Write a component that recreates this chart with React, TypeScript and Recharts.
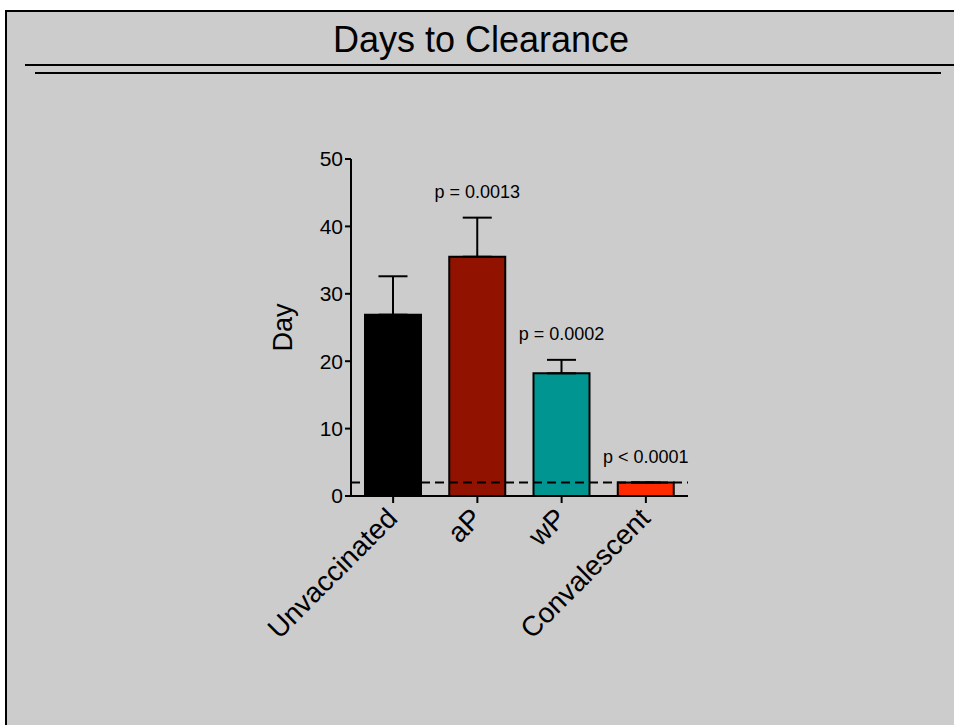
import { BarChart, Bar, XAxis, YAxis, Cell, ErrorBar, LabelList, ReferenceLine } from "recharts";

const groups = ["Unvaccinated", "aP", "wP", "Convalescent"];
const meanDays = [26.9, 35.5, 18.2, 2.0];
const semDays = [5.7, 5.8, 2.0, 0];
const pValues = ["", "p = 0.0013", "p = 0.0002", "p < 0.0001"];
const barColors = ["#000000", "#921200", "#009591", "#ff2a00"];
const yTicks = [0, 10, 20, 30, 40, 50];
const detectionLimit = 2;

const data = groups.map((g, i) => ({
  name: g,
  mean: meanDays[i],
  err: [0, semDays[i]],
  p: pValues[i],
}));

const FONT = "'Liberation Sans', Arial, sans-serif";

const XTick = ({ x, y, payload }: any) => {
  const ax = x + 6;
  const ay = y + 15;
  return (
    <text
      x={ax}
      y={ay}
      transform={`rotate(-45, ${ax}, ${ay})`}
      textAnchor="end"
      fontSize={28}
      fontFamily={FONT}
      fill="#000"
    >
      {payload.value}
    </text>
  );
};

const PLabel = (props: any) => {
  const { x, y, width, height, value, index } = props;
  if (!value) return null;
  const perUnit = height / meanDays[index];
  const top = y - semDays[index] * perUnit;
  return (
    <text
      x={x + width / 2}
      y={top - 20}
      textAnchor="middle"
      fontSize={18}
      fontFamily={FONT}
      fill="#000"
    >
      {value}
    </text>
  );
};

const DayLabel = ({ viewBox }: any) => {
  const lx = viewBox.x + 1;
  const ly = viewBox.y + viewBox.height / 2;
  return (
    <text
      x={lx}
      y={ly}
      transform={`rotate(-90, ${lx}, ${ly})`}
      textAnchor="middle"
      fontSize={27}
      fontFamily={FONT}
      fill="#000"
    >
      Day
    </text>
  );
};

export default function App() {
  return (
    <div
      style={{
        position: "absolute",
        left: 0,
        top: 0,
        width: 954,
        height: 725,
        background: "#fff",
        overflow: "hidden",
        fontFamily: FONT,
      }}
    >
      <svg width={954} height={725} style={{ position: "absolute", left: 0, top: 0 }}>
        <rect x={6} y={11} width={960} height={730} fill="#cccccc" stroke="#000" strokeWidth={2} />
        <text x={481} y={52} textAnchor="middle" fontSize={36} fontFamily={FONT} fill="#000">
          Days to Clearance
        </text>
        <line x1={25} y1={65} x2={954} y2={65} stroke="#000" strokeWidth={2} />
        <line x1={35} y1={73} x2={941} y2={73} stroke="#000" strokeWidth={2} />
      </svg>
      <div style={{ position: "absolute", left: 0, top: 0 }}>
        <BarChart
          width={954}
          height={725}
          data={data}
          margin={{ top: 159, right: 266, left: 291, bottom: 169 }}
        >
          <XAxis
            dataKey="name"
            height={60}
            tick={<XTick />}
            tickSize={7}
            axisLine={{ stroke: "#000", strokeWidth: 2 }}
            tickLine={{ stroke: "#000", strokeWidth: 2 }}
            interval={0}
          />
          <YAxis
            width={60}
            domain={[0, 50]}
            ticks={yTicks}
            tickSize={6}
            tickMargin={2}
            tick={{ fontSize: 21, fill: "#000", fontFamily: FONT }}
            axisLine={{ stroke: "#000", strokeWidth: 2 }}
            tickLine={{ stroke: "#000", strokeWidth: 2 }}
            label={<DayLabel />}
          />
          <Bar
            dataKey="mean"
            barSize={56}
            stroke="#000"
            strokeWidth={2}
            isAnimationActive={false}
          >
            {data.map((d, i) => (
              <Cell key={d.name} fill={barColors[i]} />
            ))}
            <ErrorBar dataKey="err" direction="y" width={14.5} stroke="#000" strokeWidth={2} />
            <LabelList dataKey="p" content={<PLabel />} />
          </Bar>
          <ReferenceLine
            y={detectionLimit}
            stroke="#000"
            strokeWidth={2}
            strokeDasharray="9 5"
          />
        </BarChart>
      </div>
    </div>
  );
}
